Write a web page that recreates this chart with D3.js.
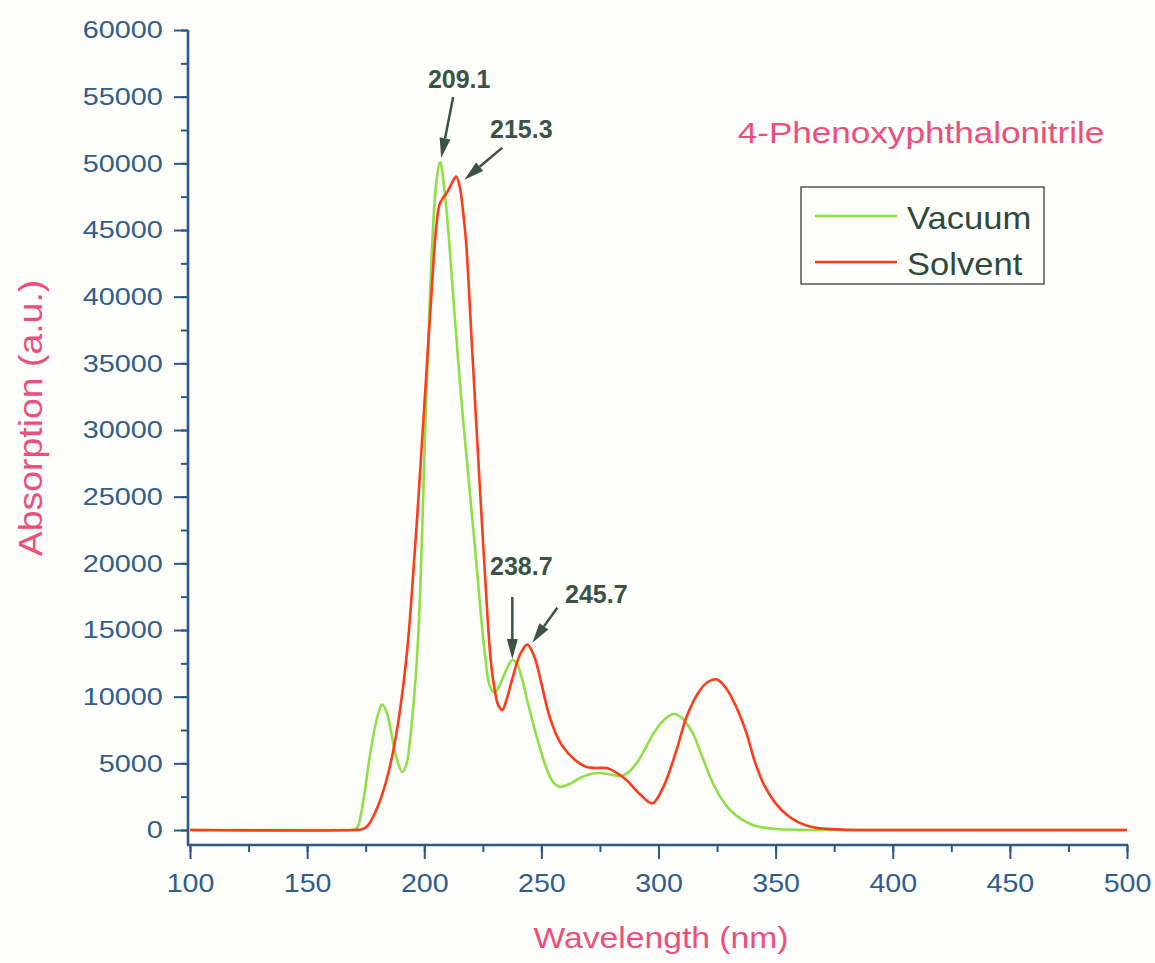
<!DOCTYPE html>
<html>
<head>
<meta charset="utf-8">
<script src="https://cdn.jsdelivr.net/npm/d3@7/dist/d3.min.js"></script>
<style>
  body { margin: 0; background: #fefefb; }
  svg { display: block; font-family: 'Liberation Sans', Arial, sans-serif; }
</style>
</head>
<body>
<div id="chart"></div>
<script>
// wavelength (nm) / absorption
var vacuumWl = [100, 165, 170, 171.5, 174, 177, 180, 182, 184, 186, 188, 190.6, 192.5, 194, 195.5,
  197, 198.3, 199.3, 200.4, 201.7, 203.3, 205, 206.8, 208.5, 210.7, 212.8, 215, 217, 220, 222, 224.4, 226,
  227.8, 229.9, 232, 235, 237.6, 239.5, 241.5, 244, 248, 252, 255, 257.7, 262, 267, 273.5, 280, 284,
  287, 290.6, 294, 297.4, 302, 306.4, 310, 314.5, 318, 322, 326, 330, 335, 340, 345, 350, 360, 370, 500];
var vacuumAbs = [0, 0, 20, 200, 2200, 5800, 8500, 9400, 8800, 7200, 5500, 4350, 5000, 6900, 9600,
  13200, 18000, 23500, 30000, 36500, 43500, 48300, 50100, 48200, 44000, 39000, 34000, 30000, 24300, 20500, 15750, 13000,
  10900, 10300, 10800, 12000, 12750, 12500, 11500, 9700, 7000, 4700, 3600, 3250, 3450, 3950, 4270, 4150, 4050,
  4300, 5000, 6000, 7100, 8200, 8700, 8400, 7300, 5800, 4000, 2600, 1600, 850, 400, 180, 70, 10, 0, 0];

var solventWl = [100, 170, 173.5, 176, 180, 183, 185, 187, 189, 191, 193, 195, 197, 199, 201, 203, 205,
  206.5, 208, 210, 212, 213.7, 215.2, 216.5, 217.9, 220, 222.2, 224.8, 227, 228.5, 229.9, 231.5, 233.3, 235, 238,
  241, 244, 247, 250, 253, 256, 259, 264, 269, 273, 277.8, 282, 286.3, 292, 297.4, 302, 307.7, 312, 317,
  321, 324.8, 329, 333, 337.6, 341, 345, 350, 355, 360, 365, 370, 380, 400, 500];
var solventAbs = [0, 0, 60, 350, 1700, 3200, 4500, 6150, 8200, 10800, 14000, 18500, 23500, 29000, 34500, 40000, 45000,
  46900, 47400, 47900, 48600, 49000, 48200, 46500, 44000, 37500, 30500, 22500, 16000, 12500, 10700, 9400, 9000, 9700, 11600,
  13200, 13900, 13000, 11000, 8800, 7300, 6300, 5300, 4750, 4650, 4650, 4300, 3750, 2700, 2000, 3200, 6000, 8500, 10300,
  11100, 11300, 10600, 9300, 7250, 5200, 3400, 2000, 1100, 550, 250, 100, 20, 0, 0];

var seriesNames = ['Vacuum', 'Solvent'];
var seriesColors = ['#8fe046', '#ff3b1c'];

// peak labels and the point on the curve each arrow points at
var peakLabels = ['209.1', '215.3', '238.7', '245.7'];
var peakWl = [206.8, 213.7, 237.6, 244];
var peakAbs = [50100, 49000, 12750, 13900];

var xTicks = d3.range(100, 501, 50);
var yTicks = d3.range(0, 60001, 5000);

var width = 1155, height = 963;
var axisColor = '#2c5889';
var tickColor = '#2f5d8f';
var titleColor = '#ec4f7c';
var noteColor = '#3b5246';

var x = d3.scaleLinear().domain([100, 500]).range([190, 1127]);
var y = d3.scaleLinear().domain([0, 60000]).range([830, 30]);
var xAxisY = 845, yAxisX = 188;

var svg = d3.select('#chart').append('svg')
  .attr('width', width)
  .attr('height', height);

svg.append('rect').attr('width', width).attr('height', height).attr('fill', '#fefefb');

// text with a horizontal stretch, the scan is a bit wider than tall
var addText = function(str, tx, ty, size, fill, anchor, sx, weight) {
  return svg.append('text')
    .attr('transform', 'translate(' + tx + ',' + ty + ') scale(' + sx + ',1)')
    .attr('font-size', size)
    .attr('fill', fill)
    .attr('text-anchor', anchor)
    .attr('font-weight', weight || 'normal')
    .text(str);
};

// y axis, minor ticks first then majors with labels
svg.append('g')
  .attr('transform', 'translate(' + yAxisX + ',0)')
  .call(d3.axisLeft(y).tickValues(d3.range(0, 60001, 2500)).tickSize(7).tickSizeOuter(0).tickFormat(''))
  .call(function(g) { g.select('.domain').remove(); });

var yAxis = svg.append('g')
  .attr('transform', 'translate(' + yAxisX + ',0)')
  .call(d3.axisLeft(y).tickValues(yTicks).tickSize(14).tickSizeOuter(0).tickPadding(7).tickFormat(d3.format('d')));
yAxis.select('.domain').remove();
yAxis.selectAll('.tick text')
  .attr('font-size', 24)
  .attr('font-family', 'Liberation Sans, Arial, sans-serif')
  .attr('fill', tickColor)
  .attr('transform', 'scale(1.2,1)');

// x axis
svg.append('g')
  .attr('transform', 'translate(0,' + xAxisY + ')')
  .call(d3.axisBottom(x).tickValues(d3.range(100, 501, 25)).tickSize(7).tickSizeOuter(0).tickFormat(''))
  .call(function(g) { g.select('.domain').remove(); });

var xAxis = svg.append('g')
  .attr('transform', 'translate(0,' + xAxisY + ')')
  .call(d3.axisBottom(x).tickValues(xTicks).tickSize(14).tickSizeOuter(0).tickPadding(15).tickFormat(d3.format('d')));
xAxis.select('.domain').remove();
xAxis.selectAll('.tick text')
  .attr('font-size', 26)
  .attr('font-family', 'Liberation Sans, Arial, sans-serif')
  .attr('fill', tickColor)
  .attr('transform', 'scale(1.1,1)');

svg.selectAll('.tick line').attr('stroke', axisColor).attr('stroke-width', 2);

// axis lines
svg.append('line')
  .attr('x1', yAxisX).attr('x2', yAxisX)
  .attr('y1', y(60000)).attr('y2', xAxisY)
  .attr('stroke', axisColor).attr('stroke-width', 2.6);
svg.append('line')
  .attr('x1', yAxisX - 1).attr('x2', x(500) + 1)
  .attr('y1', xAxisY).attr('y2', xAxisY)
  .attr('stroke', axisColor).attr('stroke-width', 2.6);

// spectra
var line = d3.line()
  .x(function(d) { return x(d[0]); })
  .y(function(d) { return y(d[1]); })
  .curve(d3.curveCatmullRom.alpha(0.5));

var series = [d3.zip(vacuumWl, vacuumAbs), d3.zip(solventWl, solventAbs)];
series.forEach(function(pts, i) {
  svg.append('path')
    .datum(pts)
    .attr('d', line)
    .attr('fill', 'none')
    .attr('stroke', seriesColors[i])
    .attr('stroke-width', 2.6)
    .attr('stroke-linejoin', 'round');
});

// peak arrows: label offset and tail offset from the tip
var arrowLayout = [
  { tip: [1, -4], tail: [13, -65], label: [19, -74] },
  { tip: [8, 3], tail: [46, -29], label: [65, -39] },
  { tip: [0, -1], tail: [0, -63], label: [9, -85] },
  { tip: [5, -2], tail: [30, -37], label: [69, -42] }
];

peakLabels.forEach(function(lbl, i) {
  var px = x(peakWl[i]), py = y(peakAbs[i]);
  var a = arrowLayout[i];
  var tx = px + a.tip[0], ty = py + a.tip[1];
  var sx = px + a.tail[0], sy = py + a.tail[1];
  var ang = Math.atan2(ty - sy, tx - sx);
  var headLen = 20, headW = 5.5;
  var bx = tx - headLen * Math.cos(ang), by = ty - headLen * Math.sin(ang);
  svg.append('line')
    .attr('x1', sx).attr('y1', sy).attr('x2', bx).attr('y2', by)
    .attr('stroke', noteColor).attr('stroke-width', 2.5);
  svg.append('polygon')
    .attr('points', [
      [tx, ty],
      [bx + headW * Math.sin(ang), by - headW * Math.cos(ang)],
      [bx - headW * Math.sin(ang), by + headW * Math.cos(ang)]
    ].map(function(p) { return p.join(','); }).join(' '))
    .attr('fill', noteColor);
  addText(lbl, px + a.label[0], py + a.label[1], 25, noteColor, 'middle', 1.0, 'bold');
});

// titles
addText('4-Phenoxyphthalonitrile', 921, 143, 29, titleColor, 'middle', 1.21);
addText('Wavelength (nm)', 661, 948, 29, titleColor, 'middle', 1.16);
svg.append('text')
  .attr('transform', 'translate(42,418) rotate(-90) scale(1.1,1)')
  .attr('font-size', 34)
  .attr('fill', titleColor)
  .attr('text-anchor', 'middle')
  .text('Absorption (a.u.)');

// legend
svg.append('rect')
  .attr('x', 801).attr('y', 187).attr('width', 243).attr('height', 97)
  .attr('fill', 'none').attr('stroke', '#333c36').attr('stroke-width', 1.3);
seriesNames.forEach(function(name, i) {
  var ly = 216 + i * 46;
  svg.append('line')
    .attr('x1', 815).attr('x2', 897).attr('y1', ly).attr('y2', ly)
    .attr('stroke', seriesColors[i]).attr('stroke-width', 2.4);
  addText(name, 907, ly + 13, 32, '#2d4a3c', 'start', 1.08);
});
</script>
</body>
</html>
